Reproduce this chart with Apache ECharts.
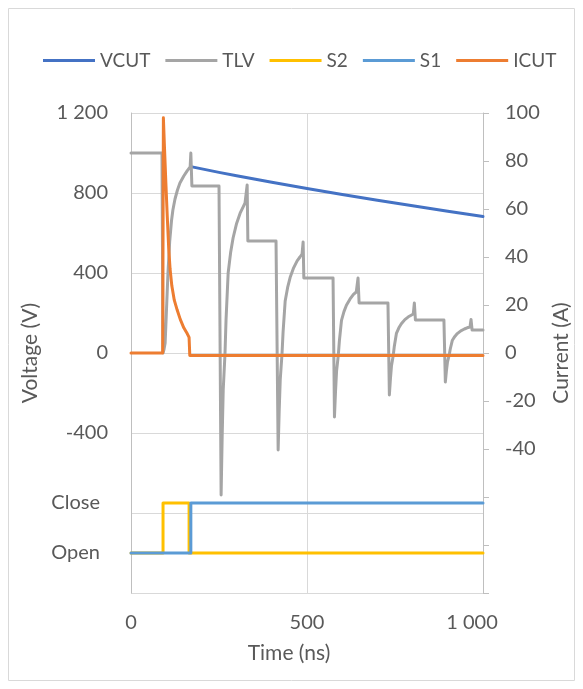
<!DOCTYPE html>
<html>
<head>
<meta charset="utf-8">
<script src="https://cdn.jsdelivr.net/npm/echarts@6/dist/echarts.min.js"></script>
<style>
html,body{margin:0;padding:0;background:#fff;}
#chart{width:583px;height:689px;}
</style>
</head>
<body>
<div id="chart"></div>
<script>
// Switch-transient waveforms: voltages on the left axis, current on the right.
const seriesNames = ['VCUT', 'TLV', 'S2', 'S1', 'ICUT'];

// Switch states are plotted on the voltage axis at these two levels.
const closeLevel = -750;
const openLevel = -1000;

const vcutTime = [170, 250, 300, 400, 500, 600, 700, 800, 900, 1000];
const vcutVolt = [932, 903, 886, 854, 823, 793, 764, 736, 709, 682];

const tlvTime = [0, 88, 91, 94, 97, 100, 105, 110, 115, 119, 125, 132, 139, 150, 160, 168, 170, 173,
  250, 256, 259, 262, 267, 270, 276, 283, 290, 300, 310, 318, 324, 330, 332,
  412, 418, 421, 424, 429, 432, 438, 445, 452, 462, 472, 480, 486, 489, 491,
  574, 578, 581, 584, 589, 592, 598, 605, 612, 622, 632, 640, 642, 645, 648,
  730, 734, 737, 740, 745, 748, 754, 761, 768, 778, 788, 796, 802, 805, 808,
  889, 893, 896, 899, 904, 907, 913, 920, 927, 937, 947, 955, 963, 966, 969, 1000];
const tlvVolt = [1000, 1000, 0, 20, 50, 180, 400, 560, 660, 715, 770, 815, 850, 885, 912, 930, 1000, 835,
  835, -710, -418, -184, -5, 166, 400, 502, 575, 648, 699, 728, 750, 840, 560,
  560, -485, -289, -132, -5, 103, 260, 328, 377, 426, 461, 480, 495, 555, 375,
  375, -320, -193, -91, -9, 61, 163, 207, 239, 269, 293, 305, 315, 375, 250,
  250, -210, -129, -64, -12, 33, 98, 126, 146, 167, 181, 189, 195, 250, 165,
  165, -145, -90, -46, -10, 20, 64, 83, 97, 111, 120, 126, 130, 168, 115, 115];

const s2Time = [0, 91, 91, 165, 165, 1000];
const s2State = [openLevel, openLevel, closeLevel, closeLevel, openLevel, openLevel];

const s1Time = [0, 170, 170, 1000];
const s1State = [openLevel, openLevel, closeLevel, closeLevel];

const icutTime = [0, 90, 92, 95, 99, 103, 107, 111, 116, 123, 131, 140, 150, 160, 165, 167, 1000];
const icutAmp = [0, 0, 98, 86, 71, 57, 44, 35, 28, 22, 18, 14, 10.5, 8, 6.5, -1, -1];

const voltLabels = [1200, 800, 400, 0, -400, closeLevel, openLevel];
const stateText = { [closeLevel]: 'Close', [openLevel]: 'Open' };

const colors = ['#4472C4', '#A5A5A5', '#FFC000', '#5B9BD5', '#ED7D31'];

function zip(xs, ys) { return xs.map((x, i) => [x, ys[i]]); }
function group(v) {
  const s = String(Math.abs(v)).replace(/\B(?=(\d{3})+(?!\d))/g, ' ');
  return (v < 0 ? '-' : '') + s;
}

const FONT = 'Lato';
const TXT = '#595959';

const chart = echarts.init(document.getElementById('chart'), null, { renderer: 'canvas' });

function line(name, idx, data, yIndex) {
  return {
    name: name, type: 'line', data: data, yAxisIndex: yIndex,
    showSymbol: false, symbol: 'none', animation: false,
    lineStyle: { color: colors[idx], width: 3, cap: 'round', join: 'round' },
    itemStyle: { color: colors[idx] }
  };
}

chart.setOption({
  animation: false,
  textStyle: { fontFamily: FONT },
  graphic: [{
    type: 'rect', shape: { x: 8.5, y: 8.5, width: 566, height: 672 },
    style: { fill: null, stroke: '#D9D9D9', lineWidth: 1 }, silent: true, z: -10
  }],
  legend: {
    data: seriesNames, top: 51, left: 43, padding: 0, icon: 'rect',
    itemWidth: 52, itemHeight: 3, itemGap: 15,
    textStyle: { fontFamily: FONT, fontSize: 19, color: TXT }
  },
  grid: { left: 131, right: 100, top: 113, bottom: 96 },
  xAxis: {
    type: 'value', min: 0, max: 1000, interval: 500,
    name: 'Time (ns)', nameLocation: 'middle', nameGap: 50,
    nameTextStyle: { fontFamily: FONT, fontSize: 21, color: TXT, padding: [0, 36, 0, 0] },
    axisLine: { show: false }, axisTick: { show: false },
    axisLabel: {
      fontFamily: FONT, fontSize: 20, color: TXT, margin: 20,
      // the last label sits a little inside the plot's right edge
      formatter: v => (v === 1000 ? '{e|' + group(v) + '}' : group(v)),
      rich: { e: { fontFamily: FONT, fontSize: 20, color: TXT, padding: [0, 22, 0, 0] } }
    },
    splitLine: { show: true, lineStyle: { color: '#D9D9D9', width: 1 } }
  },
  yAxis: [{
    type: 'value', min: -1200, max: 1200, interval: 400, position: 'left',
    name: 'Voltage (V)', nameLocation: 'middle', nameGap: 88,
    nameTextStyle: { fontFamily: FONT, fontSize: 21, color: TXT },
    axisLine: { show: true, lineStyle: { color: '#BFBFBF', width: 1 } },
    axisTick: { show: false },
    axisLabel: {
      fontFamily: FONT, fontSize: 20, color: TXT, margin: 23,
      customValues: voltLabels,
      formatter: v => (stateText[v] !== undefined ? '{s|' + stateText[v] + '}' : group(v)),
      rich: { s: { fontFamily: FONT, fontSize: 20, color: TXT, padding: [0, 8, 0, 0] } }
    },
    splitLine: { show: true, lineStyle: { color: '#D9D9D9', width: 1 } }
  }, {
    type: 'value', min: -100, max: 100, interval: 20, position: 'right',
    name: 'Current (A)', nameLocation: 'middle', nameGap: 46, nameRotate: 90,
    nameTextStyle: { fontFamily: FONT, fontSize: 21, color: TXT },
    axisLine: { show: true, lineStyle: { color: '#BFBFBF', width: 1 } },
    axisTick: { show: true, inside: false, length: 6, lineStyle: { color: '#BFBFBF' } },
    axisLabel: {
      fontFamily: FONT, fontSize: 20, color: TXT, margin: 22,
      formatter: v => (v >= -40 ? group(v) : '')
    },
    splitLine: { show: false }
  }],
  series: [
    line('VCUT', 0, zip(vcutTime, vcutVolt), 0),
    line('TLV', 1, zip(tlvTime, tlvVolt), 0),
    line('S2', 2, zip(s2Time, s2State), 0),
    line('S1', 3, zip(s1Time, s1State), 0),
    line('ICUT', 4, zip(icutTime, icutAmp), 1)
  ]
});
</script>
</body>
</html>
